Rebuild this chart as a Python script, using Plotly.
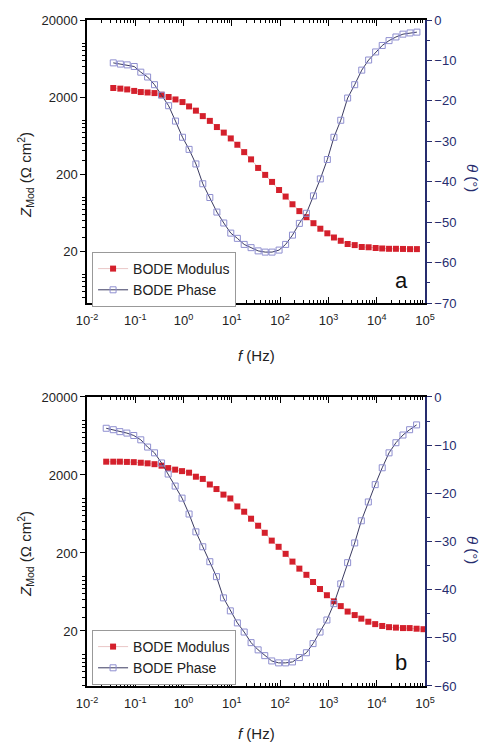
import plotly.graph_objects as go
from plotly.subplots import make_subplots

# ---------------- data ----------------
freq_a = [0.035, 0.049, 0.068, 0.095, 0.13, 0.18, 0.25, 0.35, 0.49, 0.68, 0.95, 1.3, 1.8, 2.5, 3.5,
          4.9, 6.8, 9.5, 13, 18, 25, 35, 49, 68, 95, 130, 180, 250, 350, 490, 680, 950, 1300, 1800,
          2500, 3500, 4900, 6800, 9500, 13000, 18000, 25000, 35000, 49000, 68000]
zmod_a = [2620, 2570, 2510, 2400, 2320, 2290, 2250, 2140, 2000, 1860, 1720, 1510, 1330, 1130, 980,
          815, 690, 580, 480, 385, 310, 240, 195, 158, 124, 102, 81, 66, 55, 46, 39, 34, 30, 27.2,
          24.7, 23.9, 22.6, 22.4, 21.9, 21.6, 21.4, 21.4, 21.3, 21.2, 21.2]
phase_a = [-10.6, -10.9, -11.1, -11.5, -12.9, -14.1, -16.0, -18.6, -21.2, -25.0, -29.0, -32.0, -35.6,
           -40.5, -43.9, -47.5, -50.2, -52.7, -54.0, -55.5, -56.3, -57.1, -57.4, -57.4, -56.9, -55.5,
           -53.2, -50.3, -47.8, -43.5, -39.3, -34.5, -29.0, -24.8, -19.3, -16.0, -12.4, -9.9, -7.9,
           -6.3, -5.1, -4.2, -3.5, -3.2, -3.0]

freq_b = [0.025, 0.035, 0.048, 0.067, 0.093, 0.13, 0.18, 0.25, 0.35, 0.48, 0.67, 0.93, 1.3, 1.8, 2.5,
          3.5, 4.8, 6.7, 9.3, 13, 18, 25, 35, 48, 67, 93, 130, 180, 250, 350, 480, 670, 930, 1300,
          1800, 2500, 3500, 4800, 6700, 9300, 13000, 18000, 25000, 35000, 48000, 67000, 93000]
zmod_b = [2960, 2960, 2960, 2940, 2920, 2870, 2820, 2750, 2630, 2450, 2340, 2240, 2140, 1900, 1780,
          1510, 1320, 1120, 1000, 790, 676, 550, 447, 363, 288, 240, 195, 155, 126, 105, 85, 69, 57.5,
          48, 41.7, 35.5, 32, 28.8, 26.3, 24.5, 23.2, 22.4, 22.1, 21.8, 21.8, 21.4, 21.1]
phase_b = [-6.5, -6.8, -7.2, -7.5, -8.0, -8.9, -10.4, -11.6, -13.7, -16.0, -18.5, -21.0, -24.3, -28.0,
           -31.1, -34.2, -37.3, -41.7, -44.4, -46.9, -48.8, -51.0, -52.5, -53.7, -54.8, -55.2, -55.2,
           -55.0, -54.1, -53.1, -51.2, -48.8, -46.3, -42.9, -38.8, -34.4, -30.3, -25.7, -21.8, -18.2,
           -14.7, -11.6, -9.5, -7.9, -6.8, -5.8]

x_tickvals = [0.01, 0.1, 1, 10, 100, 1000, 10000, 100000]
x_ticktext = ["10<sup>-2</sup>", "10<sup>-1</sup>", "10<sup>0</sup>", "10<sup>1</sup>",
              "10<sup>2</sup>", "10<sup>3</sup>", "10<sup>4</sup>", "10<sup>5</sup>"]
z_tickvals = [20, 200, 2000, 20000]
z_ticktext = ["20", "200", "2000", "20000"]

# ---------------- styles ----------------
FONT = "Arial, Liberation Sans, sans-serif"
RED = "#d4202c"
NAVY = "#262c6e"
LAV = "#8f8fd0"

fig = make_subplots(rows=2, cols=1, specs=[[{"secondary_y": True}], [{"secondary_y": True}]])

def add_panel(row, f, z, f_ph, ph, legend):
    fig.add_trace(go.Scatter(x=f, y=z, mode="lines+markers", name="BODE Modulus",
                             line=dict(color="rgba(215,150,150,0.55)", width=1),
                             marker=dict(symbol="square", size=6, color=RED),
                             legend=legend), row=row, col=1, secondary_y=False)
    fig.add_trace(go.Scatter(x=f_ph, y=ph, mode="lines+markers", name="BODE Phase",
                             line=dict(color="#3a3a60", width=1),
                             marker=dict(symbol="square-open", size=6, color=LAV,
                                         line=dict(width=1, color=LAV)),
                             legend=legend), row=row, col=1, secondary_y=True)

add_panel(1, freq_a, zmod_a, freq_a, phase_a, "legend")
add_panel(2, freq_b, zmod_b, freq_b[:len(phase_b)], phase_b, "legend2")

dom_a = [0.575, 1.0]
dom_b = [0.0, 0.434]

xcommon = dict(type="log", range=[-2, 5], tickvals=x_tickvals, ticktext=x_ticktext,
               ticks="inside", ticklen=6, tickwidth=1, tickcolor="black", ticklabelstandoff=5,
               minor=dict(ticks="inside", ticklen=3, dtick="D1", tickcolor="black", showgrid=False),
               showline=True, linecolor="black", linewidth=1.5, mirror="ticks",
               showgrid=False, zeroline=False,
               tickfont=dict(family=FONT, size=13, color="#222"))
fig.update_layout(xaxis=dict(xcommon, domain=[0, 1]), xaxis2=dict(xcommon, domain=[0, 1]))

ycommon = dict(type="log", tickvals=z_tickvals, ticktext=z_ticktext,
               ticks="outside", ticklen=5, tickwidth=1, tickcolor="black",
               minor=dict(ticks="outside", ticklen=3, dtick="D1", tickcolor="black", showgrid=False),
               showline=True, linecolor="black", linewidth=1.5, showgrid=False, zeroline=False,
               tickfont=dict(family=FONT, size=13, color="#222"))
fig.update_layout(yaxis=dict(ycommon, domain=dom_a, range=[0.626, 4.301]),
                  yaxis3=dict(ycommon, domain=dom_b, range=[0.596, 4.301]))

y2common = dict(dtick=10, ticks="outside", ticklen=5, tickwidth=1, tickcolor=NAVY,
                minor=dict(ticks="outside", ticklen=3, dtick=5, tickcolor=NAVY),
                showline=True, linecolor=NAVY, linewidth=1.5, showgrid=False, zeroline=False,
                tickfont=dict(family=FONT, size=13, color=NAVY))
fig.update_layout(yaxis2=dict(y2common, range=[-70, 0], tick0=0),
                  yaxis4=dict(y2common, range=[-60, 0], tick0=0))

legcommon = dict(x=0.015, xanchor="left", yanchor="top", bgcolor="white",
                 bordercolor="#999", borderwidth=1, font=dict(family=FONT, size=14, color="#222"),
                 itemwidth=30, tracegroupgap=0)

def py(p):
    return (686 - p) / 666.0

fig.update_layout(legend=dict(legcommon, y=py(252)), legend2=dict(legcommon, y=py(630)))

def panel_annotations(dom, letter, ztitle_y, th_y, letter_y, xt_shift):
    out = []
    out.append(dict(text="<i>Z</i><sub>Mod</sub> (Ω cm<sup>2</sup>)", xref="paper", yref="paper",
                    x=0, y=ztitle_y, xanchor="center", yanchor="middle", xshift=-62,
                    textangle=-90, showarrow=False, font=dict(family=FONT, size=15, color="#222")))
    out.append(dict(text="<i>θ</i> (°)", xref="paper", yref="paper",
                    x=1, y=th_y, xanchor="center", yanchor="middle", xshift=48,
                    textangle=90, showarrow=False, font=dict(family=FONT, size=15, color=NAVY)))
    out.append(dict(text="<i>f</i> (Hz)", xref="paper", yref="paper",
                    x=0.5, y=dom[0], xanchor="center", yanchor="middle", yshift=xt_shift,
                    showarrow=False, font=dict(family=FONT, size=15, color="#222")))
    out.append(dict(text=letter, xref="paper", yref="paper",
                    x=0.93, y=letter_y, xanchor="center", yanchor="middle",
                    showarrow=False, font=dict(family=FONT, size=22, color="#111")))
    return out

anns = panel_annotations(dom_a, "a", py(175), py(178), py(280), -52)
anns += panel_annotations(dom_b, "b", py(554), py(550), py(662), -47)

fig.update_layout(annotations=anns, width=481, height=742,
                  margin=dict(l=87, r=56, t=20, b=56),
                  paper_bgcolor="white", plot_bgcolor="white",
                  font=dict(family=FONT))

fig.write_html("out.html")
